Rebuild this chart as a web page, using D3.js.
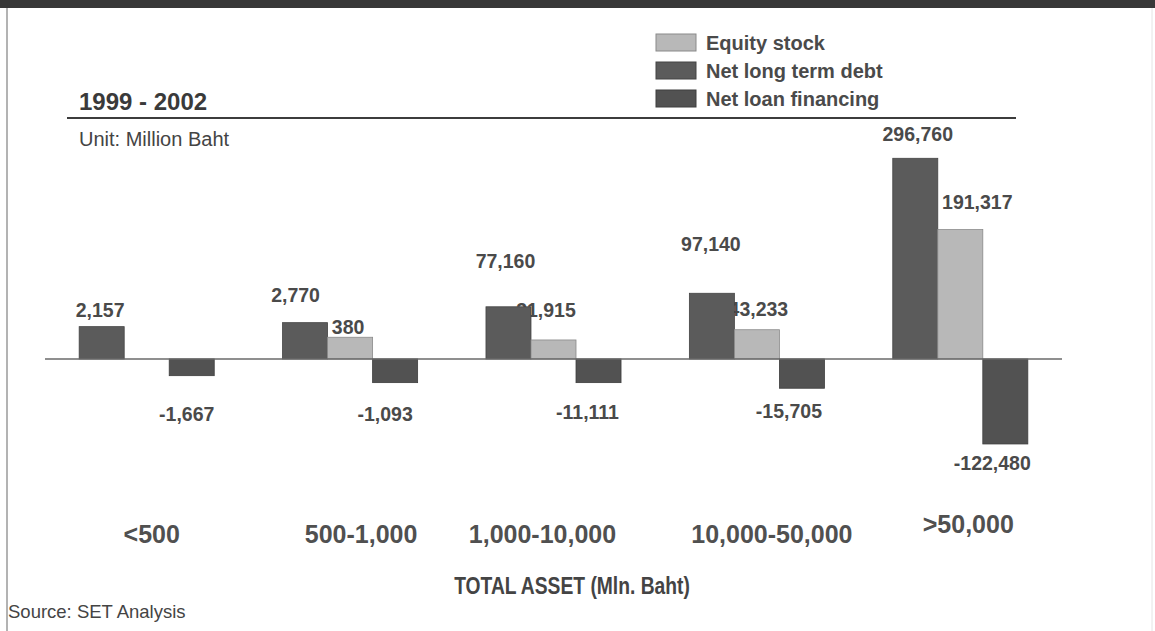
<!DOCTYPE html>
<html>
<head>
<meta charset="utf-8">
<script src="https://cdn.jsdelivr.net/npm/d3@7"></script>
<style>
  html, body { margin: 0; padding: 0; background: #fff; }
  svg { display: block; font-family: "Liberation Sans", Arial, Helvetica, sans-serif; }
</style>
</head>
<body>
<svg id="chart" width="1155" height="631"></svg>
<script>
// ---------------- data ----------------
const categories = ["<500", "500-1,000", "1,000-10,000", "10,000-50,000", ">50,000"];
const seriesKeys = ["debt", "equity", "loan"];
const legendNames = ["Equity stock", "Net long term debt", "Net loan financing"];
// bar magnitudes as drawn in the picture (Million Baht)
const debtValues   = [47800, 53700, 77160, 97140, 296760];
const equityValues = [0, 32100, 28100, 43233, 191317];
const loanValues   = [-24700, -35000, -35000, -43300, -125700];
// values printed on the chart
const debtLabels   = [2157, 2770, 77160, 97140, 296760];
const equityLabels = [null, 380, 31915, 43233, 191317];
const loanLabels   = [-1667, -1093, -11111, -15705, -122480];

// ---------------- layout (styling only) ----------------
const W = 1155, H = 631;
const colors = { debt: "#5b5b5b", equity: "#b8b8b8", loan: "#525252" };
const strokes = { debt: "#444", equity: "#8a8a8a", loan: "#3e3e3e" };
// label nudges: [dx from bar centre, dy from bar end]
const labelNudge = {
  debt:   [[-1.5, -10], [-9.5, -21], [-3, -39], [-1, -42], [2.5, -17]],
  equity: [[0, 0], [-2, -3.5], [-7.5, -23], [1.5, -14], [17, -21]],
  loan:   [[-5, 45], [-10, 38], [-11, 36], [-13, 30], [-13, 26]]
};
const catNudge = [[5, 0], [11, 0], [-11, 0], [15, 0], [8, -10]];

const svg = d3.select("#chart");
svg.append("rect").attr("width", W).attr("height", H).attr("fill", "#fff");

// frame
svg.append("rect").attr("x", 0).attr("y", 0).attr("width", W).attr("height", 8).attr("fill", "#383838");
svg.append("line").attr("x1", 7).attr("x2", 7).attr("y1", 8).attr("y2", H)
  .attr("stroke", "#9a9a9a").attr("stroke-width", 1.5);
svg.append("line").attr("x1", 1152).attr("x2", 1152).attr("y1", 8).attr("y2", H)
  .attr("stroke", "#e4e4e4").attr("stroke-width", 1);

// header
svg.append("text").attr("x", 79).attr("y", 110).attr("font-size", 24).attr("font-weight", "bold")
  .attr("fill", "#3a3a3a").text("1999 - 2002");
svg.append("line").attr("x1", 67).attr("x2", 1016).attr("y1", 118).attr("y2", 118)
  .attr("stroke", "#3c3c3c").attr("stroke-width", 2);
svg.append("text").attr("x", 79).attr("y", 146).attr("font-size", 20)
  .attr("fill", "#444").text("Unit: Million Baht");

// legend
const legendKeys = ["equity", "debt", "loan"];
const lg = svg.append("g");
legendKeys.forEach((k, i) => {
  const y0 = 34 + i * 28;
  lg.append("rect").attr("x", 656).attr("y", y0).attr("width", 40).attr("height", 17)
    .attr("fill", colors[k]).attr("stroke", strokes[k]).attr("stroke-width", 1);
  lg.append("text").attr("x", 706).attr("y", y0 + 16).attr("font-size", 20).attr("font-weight", "bold")
    .attr("fill", "#4a4a4a").text(legendNames[i]);
});

// scales
const x0 = d3.scaleBand().domain(categories).range([45, 1062]).paddingInner(0.336).paddingOuter(0.168);
const x1 = d3.scaleBand().domain(seriesKeys).range([0, x0.bandwidth()]).padding(0);
const y = d3.scaleLinear().domain([-150000, 300000]).range([460.4, 156.1]);

const rows = categories.map((c, i) => ({
  cat: c, i,
  debt: debtValues[i], equity: equityValues[i], loan: loanValues[i],
  labels: { debt: debtLabels[i], equity: equityLabels[i], loan: loanLabels[i] }
}));

const fmt = d3.formatLocale({ decimal: ".", thousands: ",", grouping: [3], currency: ["", ""], minus: "-" }).format(",");

// value labels (drawn first; bars overlap them as in the original)
const lab = svg.append("g").attr("font-size", 19.5).attr("font-weight", "bold").attr("fill", "#4a4a4a")
  .attr("text-anchor", "middle");
rows.forEach(r => {
  seriesKeys.forEach(k => {
    const v = r[k], t = r.labels[k];
    if (t === null || t === undefined) return;
    const [dx, dy] = labelNudge[k][r.i];
    const cx = x0(r.cat) + x1(k) + x1.bandwidth() / 2;
    const end = y(v);
    lab.append("text").attr("x", cx + dx).attr("y", end + dy).text(fmt(t));
  });
});

// bars
const bars = svg.append("g");
rows.forEach(r => {
  seriesKeys.forEach(k => {
    const v = r[k];
    if (!v) return;
    bars.append("rect")
      .attr("x", x0(r.cat) + x1(k))
      .attr("width", x1.bandwidth())
      .attr("y", Math.min(y(v), y(0)))
      .attr("height", Math.abs(y(v) - y(0)))
      .attr("fill", colors[k]).attr("stroke", strokes[k]).attr("stroke-width", 0.8);
  });
});

// zero line
svg.append("line").attr("x1", 45).attr("x2", 1062).attr("y1", y(0)).attr("y2", y(0))
  .attr("stroke", "#6a6a6a").attr("stroke-width", 1.6);

// category labels
const cg = svg.append("g").attr("font-size", 25).attr("font-weight", "bold").attr("fill", "#505050")
  .attr("text-anchor", "middle");
categories.forEach((c, i) => {
  const [dx, dy] = catNudge[i];
  cg.append("text").attr("x", x0(c) + x0.bandwidth() / 2 + dx).attr("y", 543 + dy).text(c);
});

// axis title (condensed face) & source
svg.append("text").attr("text-anchor", "middle")
  .attr("transform", "translate(572,594) scale(0.82,1)")
  .attr("font-size", 23.5).attr("font-weight", "bold").attr("fill", "#444").text("TOTAL ASSET (Mln. Baht)");
svg.append("text").attr("x", 8).attr("y", 618).attr("font-size", 18.5)
  .attr("fill", "#444").text("Source: SET Analysis");
</script>
</body>
</html>
